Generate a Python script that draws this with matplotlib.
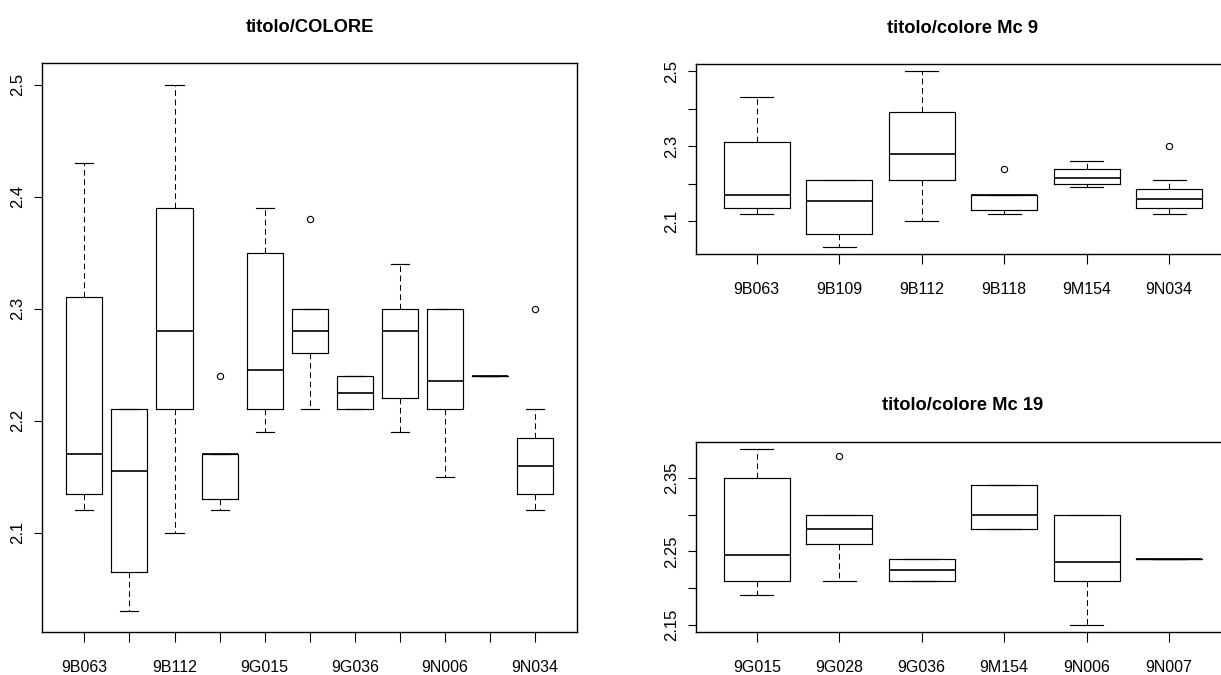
import numpy as np
import matplotlib.pyplot as plt

plt.rcParams['font.family'] = ['Liberation Sans', 'DejaVu Sans']

# titolo/colore, tutti i campioni
cat_tot = ['9B063', '9B109', '9B112', '9B118', '9G015', '9G028',
           '9G036', '9M154', '9N006', '9N007', '9N034']
min_tot = [2.12, 2.03, 2.10, 2.12, 2.19, 2.21, 2.21, 2.19, 2.15, 2.24, 2.12]
q1_tot = [2.135, 2.065, 2.21, 2.13, 2.21, 2.26, 2.21, 2.22, 2.21, 2.24, 2.135]
med_tot = [2.17, 2.155, 2.28, 2.17, 2.245, 2.28, 2.225, 2.28, 2.235, 2.24, 2.16]
q3_tot = [2.31, 2.21, 2.39, 2.17, 2.35, 2.30, 2.24, 2.30, 2.30, 2.24, 2.185]
max_tot = [2.43, 2.21, 2.50, 2.17, 2.39, 2.30, 2.24, 2.34, 2.30, 2.24, 2.21]
out_tot = [[], [], [], [2.24], [], [2.38], [], [], [], [], [2.30]]

# Mc 9
cat_mc9 = ['9B063', '9B109', '9B112', '9B118', '9M154', '9N034']
min_mc9 = [2.12, 2.03, 2.10, 2.12, 2.19, 2.12]
q1_mc9 = [2.135, 2.065, 2.21, 2.13, 2.20, 2.135]
med_mc9 = [2.17, 2.155, 2.28, 2.17, 2.215, 2.16]
q3_mc9 = [2.31, 2.21, 2.39, 2.17, 2.24, 2.185]
max_mc9 = [2.43, 2.21, 2.50, 2.17, 2.26, 2.21]
out_mc9 = [[], [], [], [2.24], [], [2.30]]

# Mc 19
cat_mc19 = ['9G015', '9G028', '9G036', '9M154', '9N006', '9N007']
min_mc19 = [2.19, 2.21, 2.21, 2.28, 2.15, 2.24]
q1_mc19 = [2.21, 2.26, 2.21, 2.28, 2.21, 2.24]
med_mc19 = [2.245, 2.28, 2.225, 2.30, 2.235, 2.24]
q3_mc19 = [2.35, 2.30, 2.24, 2.34, 2.30, 2.24]
max_mc19 = [2.39, 2.30, 2.24, 2.34, 2.30, 2.24]
out_mc19 = [[], [2.38], [], [], [], []]


def boxplot_r(ax, cats, lo, q1, med, q3, hi, out, title, yticks, ylabels, xlabels):
    stats = [dict(med=m, q1=a, q3=b, whislo=l, whishi=h, fliers=f)
             for l, a, m, b, h, f in zip(lo, q1, med, q3, hi, out)]
    n = len(cats)
    pos = np.arange(1, n + 1)
    ax.bxp(stats, positions=pos, widths=0.8, manage_ticks=False,
           boxprops=dict(color='black', lw=0.85),
           medianprops=dict(color='black', lw=1.2),
           whiskerprops=dict(color='black', lw=0.75, linestyle=(0, (5.5, 3.5))),
           capprops=dict(color='black', lw=0.85),
           flierprops=dict(marker='o', markerfacecolor='none',
                           markeredgecolor='black', markersize=4.5, markeredgewidth=0.8))
    # limiti come in R: estensione del 4%
    allv = lo + hi + [v for f in out for v in f]
    ymin, ymax = min(allv), max(allv)
    d = 0.04 * (ymax - ymin)
    ax.set_ylim(ymin - d, ymax + d)
    ax.set_xlim(0.5 - 0.04 * n, n + 0.5 + 0.04 * n)
    ax.set_xticks(pos)
    ax.set_xticklabels(xlabels)
    ax.set_yticks(yticks)
    ax.set_yticklabels(ylabels)
    ax.tick_params(axis='x', length=7.5, width=0.8, pad=12.5, labelsize=11.5)
    ax.tick_params(axis='y', length=6, width=0.8, pad=6, labelsize=12, labelrotation=90)
    for lab in ax.get_yticklabels():
        lab.set_va('center')
    for s in ax.spines.values():
        s.set_linewidth(1.0)
    ax.set_title(title, fontsize=13.2, fontweight='bold', pad=22.5)


fig = plt.figure(figsize=(12.21, 6.75), dpi=100)

ax1 = fig.add_axes([0.0344, 0.0633, 0.4385, 0.8427])
xl = [c if i % 2 == 0 else '' for i, c in enumerate(cat_tot)]
boxplot_r(ax1, cat_tot, min_tot, q1_tot, med_tot, q3_tot, max_tot, out_tot,
          'titolo/COLORE', [2.1, 2.2, 2.3, 2.4, 2.5],
          ['2.1', '2.2', '2.3', '2.4', '2.5'], xl)

ax2 = fig.add_axes([0.5698, 0.6230, 0.4377, 0.2822])
boxplot_r(ax2, cat_mc9, min_mc9, q1_mc9, med_mc9, q3_mc9, max_mc9, out_mc9,
          'titolo/colore Mc 9', [2.1, 2.2, 2.3, 2.4, 2.5],
          ['2.1', '', '2.3', '', '2.5'], cat_mc9)

ax3 = fig.add_axes([0.5698, 0.0641, 0.4377, 0.2815])
boxplot_r(ax3, cat_mc19, min_mc19, q1_mc19, med_mc19, q3_mc19, max_mc19, out_mc19,
          'titolo/colore Mc 19', [2.15, 2.20, 2.25, 2.30, 2.35],
          ['2.15', '', '2.25', '', '2.35'], cat_mc19)

fig.savefig('out.png', dpi=100)
